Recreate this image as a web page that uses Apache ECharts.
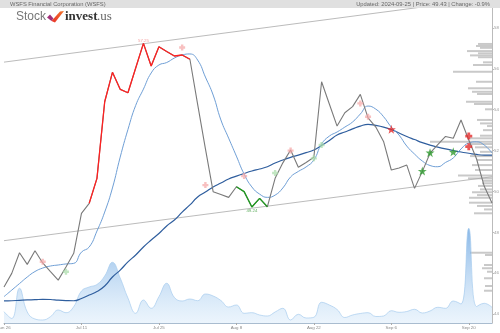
<!DOCTYPE html>
<html><head><meta charset="utf-8">
<script src="https://cdn.jsdelivr.net/npm/echarts@6/dist/echarts.min.js"></script>
<style>html,body{margin:0;padding:0;background:#fff}#c{width:500px;height:333px}</style>
</head><body><div id="c"></div>
<script>
const dates = ['Jun 26','Jun 27','Jun 28','Jul 1','Jul 2','Jul 3','Jul 5','Jul 8','Jul 9','Jul 10','Jul 11','Jul 12','Jul 15','Jul 16','Jul 17','Jul 18','Jul 19','Jul 22','Jul 23','Jul 24','Jul 25','Jul 26','Jul 29','Jul 30','Jul 31','Aug 1','Aug 2','Aug 5','Aug 6','Aug 7','Aug 8','Aug 9','Aug 12','Aug 13','Aug 14','Aug 15','Aug 16','Aug 19','Aug 20','Aug 21','Aug 22','Aug 23','Aug 26','Aug 27','Aug 28','Aug 29','Aug 30','Sep 3','Sep 4','Sep 5','Sep 6','Sep 9','Sep 10','Sep 11','Sep 12','Sep 13','Sep 16','Sep 17','Sep 18','Sep 19','Sep 20','Sep 23','Sep 24','Sep 25'];
const price = [45.32,45.99,47.0,46.43,47.1,46.5,46.07,45.66,46.3,46.97,48.93,49.42,50.64,54.39,55.83,55.0,54.83,56.04,57.25,56.14,57.08,56.85,56.63,56.68,56.47,54.26,52.1,49.99,49.85,49.71,50.23,49.99,49.24,49.66,49.25,50.64,51.4,52.03,51.18,51.42,51.67,55.37,54.28,53.2,53.85,54.15,54.75,53.6,53.15,52.45,51.05,51.15,51.29,50.15,50.97,51.87,52.29,52.69,52.6,53.5,52.52,51.6,50.25,49.43];
const smaShort = [44.85,45.17,45.49,45.81,46.08,46.25,46.35,46.40,46.45,46.48,47.03,47.28,48.06,48.99,50.17,51.68,53.03,54.21,55.01,55.8,56.19,56.31,56.53,56.68,56.73,56.43,55.6,54.72,53.5,52.61,51.73,50.85,50.22,49.87,49.71,49.82,50.17,50.71,50.98,51.2,51.54,52.32,52.71,52.91,53.15,53.4,53.79,54.18,54.03,53.66,53.15,52.76,52.22,51.83,51.49,51.27,51.21,51.42,51.64,52.08,52.37,52.43,52.27,51.88];
const smaLong = [44.64,44.65,44.67,44.69,44.70,44.72,44.71,44.68,44.66,44.65,44.76,44.93,45.10,45.37,45.81,46.15,46.55,46.89,47.28,47.62,47.94,48.31,48.6,48.99,49.34,49.73,49.97,50.22,50.41,50.61,50.75,50.88,51.0,51.1,51.21,51.39,51.54,51.67,51.78,51.9,52.03,52.25,52.49,52.76,52.91,53.06,53.2,53.28,53.23,53.15,53.03,52.86,52.69,52.54,52.39,52.27,52.17,52.08,52.0,51.93,51.87,51.81,51.78,51.78];
const volume = [113,45,347,110,40,30,63,130,103,163,320,360,385,470,607,450,250,97,230,147,263,397,255,220,240,223,290,270,225,160,180,97,103,80,70,110,147,30,87,50,57,207,180,135,55,80,95,103,65,70,123,107,115,137,100,120,157,147,220,190,947,165,197,157];
const redRange = [11, 24];
const greenRange = [30, 34];
const upperTrend = [[0, 56.33], [63, 59.48]];
const lowerTrend = [[0, 47.59], [63, 50.72]];
const profileLevel = [57.22,57.12,57.03,56.87,56.76,56.66,56.57,56.32,56.19,55.86,55.37,55.05,54.88,54.77,54.39,54.28,54.02,53.5,53.33,53.2,53.0,52.73,52.6,52.43,52.32,52.16,51.94,51.73,51.54,51.29,51.05,50.78,50.64,50.52,50.4,50.27,50.1,49.96,49.82,49.69,49.45,49.29,49.12,48.93,47.0,46.89,46.4,46.24,46.07,45.75,45.37,45.14];
const profileVol = [14,16,12,25,14,22,14,9,19,39,16,24,20,15,26,18,7,15,12,5,9,12,22,62,22,17,12,22,15,20,17,34,24,9,10,14,12,20,15,23,23,15,8,18,22,7,8,10,5,8,7,8];
const yTicks = [44,46,48,50,52,54,56,58];
const sellOld = [[5,46.56],[23,57.05],[26,50.31],[31,50.75],[37,52.0],[46,54.31],[47,53.66]];
const buyOld = [[8,46.07],[35,50.9],[40,51.62],[41,52.27]];
const sellStar = [[50,53.04]];
const buyStar = [[54,51.0],[55,51.9],[58,51.94]];
const sellCross = [[60,52.71],[60,52.19]];
const highIdx = 18, lowIdx = 32;

const seg = (r) => price.map((v, i) => (i >= r[0] && i <= r[1]) ? v : null);
const PLUS = 'path://M3,0H7V3H10V7H7V10H3V7H0V3H3Z';
const STAR = 'path://M5,0L6.2,3.6L10,3.6L7,5.9L8.1,9.5L5,7.3L1.9,9.5L3,5.9L0,3.6L3.8,3.6Z';
const F = 'Liberation Sans, Arial, sans-serif';

const chart = echarts.init(document.getElementById('c'), null, {renderer:'canvas'});
chart.setOption({
  animation:false,
  backgroundColor:'#fff',
  grid:{left:4, right:8, top:8, bottom:10, containLabel:false, outerBoundsMode:'none'},
  xAxis:[
    {type:'category', data:dates, boundaryGap:false,
     axisLine:{lineStyle:{color:'#a9bccf', width:1}},
     axisTick:{interval:9, length:2, lineStyle:{color:'#aaa'}},
     axisLabel:{interval:9, fontSize:4.4, color:'#888', margin:3, fontFamily:F, hideOverlap:false},
     splitLine:{show:false}},
    {type:'value', min:0, max:488, inverse:true, show:false}
  ],
  yAxis:[
    {type:'value', position:'right', min:43.56, max:58.98, scale:true,
     axisLine:{show:true, lineStyle:{color:'#bbb'}},
     axisTick:{show:true, length:2, customValues:yTicks, lineStyle:{color:'#bbb'}},
     axisLabel:{customValues:yTicks, fontSize:4.4, color:'#999', margin:2, fontFamily:F},
     splitLine:{show:false}},
    {type:'value', min:0, max:3150, show:false}
  ],
  series:[
    {type:'custom', xAxisIndex:1, yAxisIndex:0, z:1,
     data: profileLevel.map((p, i) => [profileVol[i], p]),
     encode:{x:0, y:1},
     renderItem:(params, api) => {
       const a = api.coord([0, api.value(1)]);
       const b = api.coord([api.value(0), api.value(1)]);
       return {type:'rect', shape:{x:b[0], y:a[1]-1, width:a[0]-b[0], height:2}, style:{fill:'#c9c9c9'}};
     }},
    {type:'line', yAxisIndex:1, data:volume, smooth:0.45, symbol:'none', z:2,
     lineStyle:{color:'#a6cbee', width:0.7},
     areaStyle:{color:new echarts.graphic.LinearGradient(0,0,0,1,[{offset:0,color:'rgba(78,148,220,0.95)'},{offset:1,color:'rgba(205,228,248,0.55)'}])}},
    {type:'line', data:upperTrend, symbol:'none', z:3, lineStyle:{color:'#aaa', width:0.8}},
    {type:'line', data:lowerTrend, symbol:'none', z:3, lineStyle:{color:'#aaa', width:0.8}},
    {type:'line', data:smaLong, smooth:true, symbol:'none', z:4, lineStyle:{color:'#2f5e9e', width:1.2}},
    {type:'line', data:smaShort, smooth:true, symbol:'none', z:4, lineStyle:{color:'#6f9fd6', width:1}},
    {type:'line', data:price, symbol:'none', z:5, lineStyle:{color:'#7a7a7a', width:1.1}},
    {type:'line', data:seg(redRange), symbol:'none', z:6, lineStyle:{color:'#ff2020', width:1.3}},
    {type:'line', data:seg(greenRange), symbol:'none', z:6, lineStyle:{color:'#1f9a1f', width:1.3}},
    {type:'scatter', data:sellOld, symbol:PLUS, symbolSize:6, z:7, itemStyle:{color:'#f5a5a5', opacity:0.7}},
    {type:'scatter', data:buyOld, symbol:PLUS, symbolSize:6, z:7, itemStyle:{color:'#a8dca8', opacity:0.7}},
    {type:'scatter', data:sellStar, symbol:STAR, symbolSize:9, z:8, itemStyle:{color:'#e42c2c'}},
    {type:'scatter', data:buyStar, symbol:STAR, symbolSize:9, z:8, itemStyle:{color:'#2f9a2f'}},
    {type:'scatter', data:sellCross, symbol:PLUS, symbolSize:7, z:8, itemStyle:{color:'#e42c2c'}},
    {type:'scatter', symbolSize:0, z:9,
     data:[{value:[highIdx, price[highIdx]], label:{show:true, position:'top', distance:1, color:'#f08a8a'}},
           {value:[lowIdx, price[lowIdx]], label:{show:true, position:'bottom', distance:2, color:'#3a9a3a'}}],
     label:{fontSize:4.4, fontFamily:F, formatter:(p) => p.value[1].toFixed(2)}}
  ],
  graphic:[
    {type:'rect', left:0, top:0, shape:{width:500, height:8}, style:{fill:'#e0e0e0'}, z:100},
    {type:'text', left:10, top:1, style:{text:'WSFS Financial Corporation (WSFS)', font:'5.8px Liberation Sans', fill:'#666'}, z:101},
    {type:'text', right:10, top:1, style:{text:'Updated: 2024-09-25 | Price: 49.43 | Change: -0.9%', font:'5.8px Liberation Sans', fill:'#666'}, z:101},
    {type:'text', left:16, top:11, style:{text:'Stock', font:'12px Liberation Sans', fill:'#777'}, z:101},
    {type:'polygon', shape:{points:[[47,17.5],[50,14.5],[53.5,18.5],[51.5,21]]}, style:{fill:'#a1307a'}, z:101},
    {type:'polygon', shape:{points:[[51.5,21],[55,22.5],[64,11],[60,11.5]]}, style:{fill:new echarts.graphic.LinearGradient(0,1,1,0,[{offset:0,color:'#e8302a'},{offset:1,color:'#f2752a'}])}, z:101},
    {type:'text', left:65, top:10.5, style:{text:'invest', font:'bold 13px Liberation Serif', fill:'#333'}, z:101},
    {type:'text', left:97, top:10.5, style:{text:'.us', font:'13px Liberation Serif', fill:'#666'}, z:101}
  ]
});
</script></body></html>
